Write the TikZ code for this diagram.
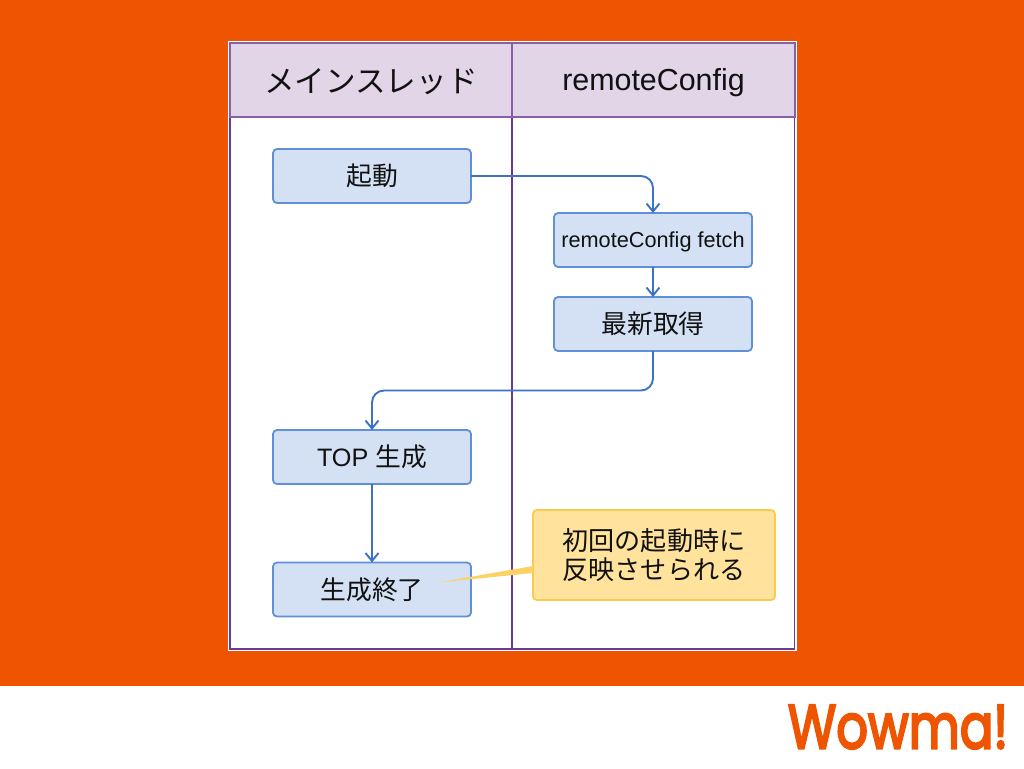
\documentclass[tikz,border=0pt]{standalone}
\usepackage{fontspec}
\setmainfont{Liberation Sans}
\newfontfamily\cjk{Noto Sans CJK JP}
\newfontfamily\logofont[FakeBold=4]{Poppins}
\definecolor{bgorange}{HTML}{EF5500}
\definecolor{headfill}{HTML}{E1D5E7}
\definecolor{headline}{HTML}{8B5FA8}
\definecolor{laneline}{HTML}{6A3A94}
\definecolor{boxfill}{HTML}{D4E1F5}
\definecolor{boxline}{HTML}{5F90D8}
\definecolor{arrowblue}{HTML}{3A73C8}
\definecolor{notefill}{HTML}{FFE29B}
\definecolor{noteline}{HTML}{FBCB4E}
\definecolor{inktext}{HTML}{111111}
\usetikzlibrary{arrows.meta}
\tikzset{
  x=0.5pt,y=-0.5pt,
  head/.style={draw=headline,fill=headfill,line width=0.8pt,inner sep=0,outer sep=0,minimum height=37pt,text=inktext},
  lanebody/.style={draw=laneline,fill=white,line width=0.8pt,inner sep=0,outer sep=0,minimum height=266pt,minimum width=141pt},
  flowbox/.style={draw=boxline,fill=boxfill,line width=0.9pt,rounded corners=2pt,inner sep=0,outer sep=0,minimum width=99pt,minimum height=27pt,text=inktext,font=\cjk\fontsize{12.9}{14}\selectfont},
  flowline/.style={draw=arrowblue,line width=0.95pt,rounded corners=6pt,-{Straight Barb[length=4pt,width=6.5pt,line width=0.95pt]}},
  notebox/.style={draw=noteline,fill=notefill,line width=0.9pt,rounded corners=2pt,inner sep=0,outer sep=0,minimum width=121pt,minimum height=45pt,text=inktext,align=center,font=\cjk\fontsize{13.05}{14.6}\selectfont},
}
\begin{document}
\begin{tikzpicture}
\useasboundingbox (0,0) rectangle (1024,768);
\fill[bgorange] (0,0) rectangle (1024,685.5);
\fill[white] (228,41) rectangle (796.5,651);
% lanes
\node[lanebody] (bodyA) at (371,383) {};
\node[lanebody] (bodyB) at (653.5,383) {};
\node[head,minimum width=141pt,font=\cjk\fontsize{15.3}{16}\selectfont] (headA) at (371,80) {\raisebox{-6pt}[0pt][0pt]{メインスレッド}};
\node[head,minimum width=141.5pt,font=\fontsize{15.2}{16}\selectfont] (headB) at (653.5,80) {\raisebox{-5.4pt}[0pt][0pt]{remoteConfig}};
% boxes
\node[flowbox] (start) at (372,176) {起動};
\node[flowbox,font=\fontsize{10.85}{13}\selectfont] (fetch) at (653,240) {\raisebox{-3.8pt}[0pt][0pt]{remoteConfig fetch}};
\node[flowbox] (latest) at (653,324) {\raisebox{-4.6pt}[0pt][0pt]{最新取得}};
\node[flowbox] (top) at (372,457) {\fontspec{Liberation Sans}\fontsize{12.6}{14}\selectfont TOP \cjk\fontsize{12.9}{14}\selectfont 生成};
\node[flowbox] (done) at (372,589.5) {生成終了};
% connectors
\coordinate (cross) at (512,390.5);
\draw[flowline] (start.east) -| (fetch.north);
\draw[flowline] (fetch.south) -- (latest.north);
\draw[flowline] (latest.south) |- (cross) -| (top.north);
\draw[flowline] (top.south) -- (done.north);
% note
\node[notebox] (note) at (654,555) {初回の起動時に\\反映させられる};
\coordinate (notetip) at (438,582.5);
\coordinate (notetop) at ([yshift=-5.5pt]note.west);
\coordinate (notebot) at ([yshift=-9pt]note.west);
\fill[notefill!30!noteline,line join=round] (notetop) -- (notetip) -- (notebot) -- cycle;
% logo
\node[text=bgorange,inner sep=0,xscale=0.8,font=\logofont\fontsize{31}{34}\selectfont] (logo) at (898,727) {Wowma!};
\end{tikzpicture}
\end{document}
